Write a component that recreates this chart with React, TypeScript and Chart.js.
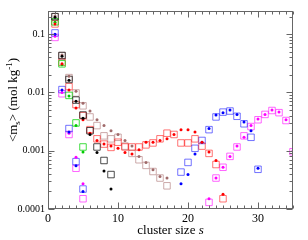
import React, { useEffect, useRef } from 'react';
import { Chart, registerables } from 'chart.js';
Chart.register(...registerables);

const FONT = '"Liberation Serif", "Times New Roman", serif';

// ---- data: cluster size s and mean molality <m_s> ----
const blackS = [1, 2, 3, 4, 5, 6, 7, 8, 9];
const blackSq = [0.2, 0.043, 0.0167, 0.0074, 0.0041, 0.0022, 0.00116, 0.00068, 0.00039];
const blackDot = [0.195, 0.042, 0.0162, 0.0071, 0.0036, 0.0019, 0.00093, 0.00045, 0.00022];

const greenS = [1, 2, 3, 4, 5];
const greenSq = [0.163, 0.031, 0.0089, 0.003, 0.00116];
const greenDot = [0.16, 0.03, 0.0087, 0.0027, 0.00095];

const rosyS = [1, 2, 3, 4, 5, 6, 7, 8, 9, 10, 11, 12, 13, 14, 15, 16, 17];
const rosySq = [0.2, 0.043, 0.018, 0.0098, 0.0059, 0.0038, 0.0027, 0.0018, 0.0016, 0.0017, 0.0012, 0.0009, 0.0007, 0.00056, 0.00044, 0.00034, 0.00025];
const rosyDot = [0.205, 0.044, 0.019, 0.0105, 0.0065, 0.0048, 0.0034, 0.0027, 0.0022, 0.0019, 0.0015, 0.0012, 0.0008, 0.00063, 0.00047, 0.00036, 0.00034];

const redS = [1, 2, 3, 4, 5, 6, 7, 8, 9, 10, 11, 12, 13, 14, 15, 16, 17, 18, 19, 20, 21, 22, 23, 24, 25];
const redSq = [0.15, 0.033, 0.0126, 0.0062, 0.004, 0.0023, 0.0016, 0.0013, 0.00114, 0.0014, 0.00116, 0.00116, 0.00116, 0.00126, 0.00136, 0.0016, 0.002, 0.0019, 0.00136, 0.00136, 0.0016, 0.0012, 0.0009, 0.00058, 0.00015];
const redDot = [0.15, 0.031, 0.011, 0.0054, 0.0034, 0.002, 0.0015, 0.0013, 0.0012, 0.0011, 0.00093, 0.00088, 0.00104, 0.0014, 0.0014, 0.0015, 0.0016, 0.0019, 0.0023, 0.0023, 0.0021, 0.0014, 0.00095, 0.00068, 0.00018];

const blueS = [1, 2, 3, 4, 5, 19, 20, 21, 22, 23, 24, 25, 26, 27, 28, 29, 30];
const blueSq = [0.105, 0.0112, 0.0024, 0.00065, 0.00022, 0.00043, 0.00063, 0.0011, 0.0015, 0.0023, 0.0038, 0.0046, 0.0048, 0.0039, 0.0029, 0.0017, 0.00048];
const blueDot = [0.1, 0.011, 0.0021, 0.00055, 0.0002, 0.00027, 0.00039, 0.00088, 0.0014, 0.0024, 0.0041, 0.0045, 0.005, 0.0042, 0.0031, 0.0022, 0.0005];

const magentaS = [1, 2, 3, 4, 5, 23, 24, 25, 26, 27, 28, 29, 30, 31, 32, 33, 34, 35];
const magentaSq = [0.088, 0.0095, 0.0019, 0.0005, 0.00015, 0.00013, 0.00034, 0.00052, 0.0008, 0.00116, 0.0018, 0.0026, 0.0034, 0.0042, 0.0049, 0.0045, 0.0033, 0.00096];
const magentaDot = [0.092, 0.01, 0.002, 0.00077, 0.00027, 0.00015, 0.00034, 0.00052, 0.0008, 0.0012, 0.0017, 0.0027, 0.0035, 0.0042, 0.005, 0.0046, 0.0034, 0.001];

const xTickLabels = [0, 10, 20, 30];
const yTickLabels = [0.0001, 0.001, 0.01, 0.1];

function pts(s: number[], v: number[]) {
  return s.map((x, i) => ({ x, y: v[i] }));
}

function squares(s: number[], v: number[], color: string) {
  return {
    data: pts(s, v),
    pointStyle: 'rect',
    pointRadius: 4.6,
    borderWidth: 1,
    borderColor: color,
    backgroundColor: 'rgba(0,0,0,0)',
    showLine: false,
  };
}
function dots(s: number[], v: number[], color: string) {
  return {
    data: pts(s, v),
    pointStyle: 'circle',
    pointRadius: 1.5,
    borderWidth: 0,
    backgroundColor: color,
    borderColor: color,
    showLine: false,
  };
}

const framePlugin = {
  id: 'frame',
  afterDraw(chart: any) {
    const { ctx, chartArea: a, scales } = chart;
    const xs = scales.x;
    const ys = scales.y;
    ctx.save();
    ctx.strokeStyle = '#666';
    ctx.lineWidth = 1;
    const L = Math.round(a.left) + 0.5;
    const R = Math.round(a.right) - 0.5;
    const T = Math.round(a.top) + 0.5;
    const B = Math.round(a.bottom) - 0.5;
    ctx.strokeRect(L, T, R - L, B - T);
    const line = (x1: number, y1: number, x2: number, y2: number) => {
      ctx.beginPath();
      ctx.moveTo(x1, y1);
      ctx.lineTo(x2, y2);
      ctx.stroke();
    };
    for (let s = 0; s <= 35; s++) {
      const px = Math.round(xs.getPixelForValue(s)) + 0.5;
      const len = s % 10 === 0 ? 6 : 3;
      line(px, B, px, B - len);
      line(px, T, px, T + len);
    }
    for (let e = -4; e <= -1; e++) {
      for (let m = 1; m <= 9; m++) {
        const v = m * Math.pow(10, e);
        if (v > ys.max) break;
        const py = Math.round(ys.getPixelForValue(v)) + 0.5;
        const len = m === 1 ? 6 : 3;
        line(L, py, L + len, py);
        line(R, py, R - len, py);
      }
    }
    // y title
    ctx.fillStyle = '#000';
    ctx.textBaseline = 'alphabetic';
    const big = '13px ' + FONT;
    const small = '9px ' + FONT;
    const parts: [string, string, number][] = [
      ['<m', big, 0],
      ['s', small, 3],
      ['> (mol kg', big, 0],
      ['-1', small, -5],
      [')', big, 0],
    ];
    let total = 0;
    const widths = parts.map(([t, f]) => {
      ctx.font = f;
      const w = ctx.measureText(t).width;
      total += w;
      return w;
    });
    ctx.save();
    ctx.translate(13, 100);
    ctx.rotate(-Math.PI / 2);
    let cx = -total / 2;
    parts.forEach(([t, f, dy], i) => {
      ctx.font = f;
      ctx.fillText(t, cx, 4 + dy);
      cx += widths[i];
    });
    ctx.restore();
    // x title
    const t1 = 'cluster size ';
    const t2 = 's';
    ctx.font = big;
    const w1 = ctx.measureText(t1).width;
    ctx.font = 'italic ' + big;
    const w2 = ctx.measureText(t2).width;
    const start = (a.left + a.right) / 2 - (w1 + w2) / 2;
    ctx.font = big;
    ctx.fillText(t1, start, 234);
    ctx.font = 'italic ' + big;
    ctx.fillText(t2, start + w1, 234);
    ctx.restore();
  },
};

export default function App() {
  const ref = useRef<HTMLCanvasElement | null>(null);
  useEffect(() => {
    if (!ref.current) return;
    const chart = new Chart(ref.current, {
      type: 'scatter',
      data: {
        datasets: [
          dots(blackS, blackDot, '#000000'),
          dots(redS, redDot, '#ff0000'),
          dots(greenS, greenDot, '#00cc00'),
          dots(blueS, blueDot, '#0000ff'),
          dots(magentaS, magentaDot, '#ff00ff'),
          dots(rosyS, rosyDot, '#a06a6a'),
          squares(blackS, blackSq, 'rgba(0,0,0,0.7)'),
          squares(greenS, greenSq, 'rgba(0,210,0,0.75)'),
          squares(redS, redSq, 'rgba(255,0,0,0.55)'),
          squares(blueS, blueSq, 'rgba(0,0,255,0.55)'),
          squares(magentaS, magentaSq, 'rgba(255,0,255,0.6)'),
          squares(rosyS, rosySq, 'rgba(188,143,143,0.75)'),
        ] as any,
      },
      options: {
        animation: false,
        responsive: false,
        events: [],
        layout: { padding: { left: 0, right: 15, top: 11, bottom: 0 } },
        plugins: { legend: { display: false }, tooltip: { enabled: false } },
        scales: {
          x: {
            type: 'linear',
            min: 0,
            max: 35,
            grid: { display: false, drawTicks: false },
            border: { display: false },
            ticks: {
              stepSize: 10,
              includeBounds: false,
              padding: 3,
              color: '#000',
              font: { family: FONT, size: 12 },
              callback: (v: any) => (xTickLabels.includes(Number(v)) ? String(v) : ''),
            },
            afterFit: (s: any) => {
              s.height = 31;
            },
          },
          y: {
            type: 'logarithmic',
            min: 0.0001,
            max: 0.25,
            grid: { display: false, drawTicks: false },
            border: { display: false },
            ticks: {
              autoSkip: false,
              padding: 3,
              color: '#000',
              font: { family: FONT, size: 10 },
              callback: (v: any) => {
                const n = Number(v);
                const hit = yTickLabels.find((t) => Math.abs(t - n) / t < 1e-6);
                return hit !== undefined ? String(hit) : '';
              },
            },
            afterFit: (s: any) => {
              s.width = 48;
            },
          },
        },
      } as any,
      plugins: [framePlugin],
    });
    return () => chart.destroy();
  }, []);
  return (
    <div style={{ position: 'absolute', left: 0, top: 0, width: 308, height: 240, background: '#fff' }}>
      <canvas ref={ref} width={308} height={240} style={{ width: 308, height: 240, display: 'block' }} />
    </div>
  );
}
